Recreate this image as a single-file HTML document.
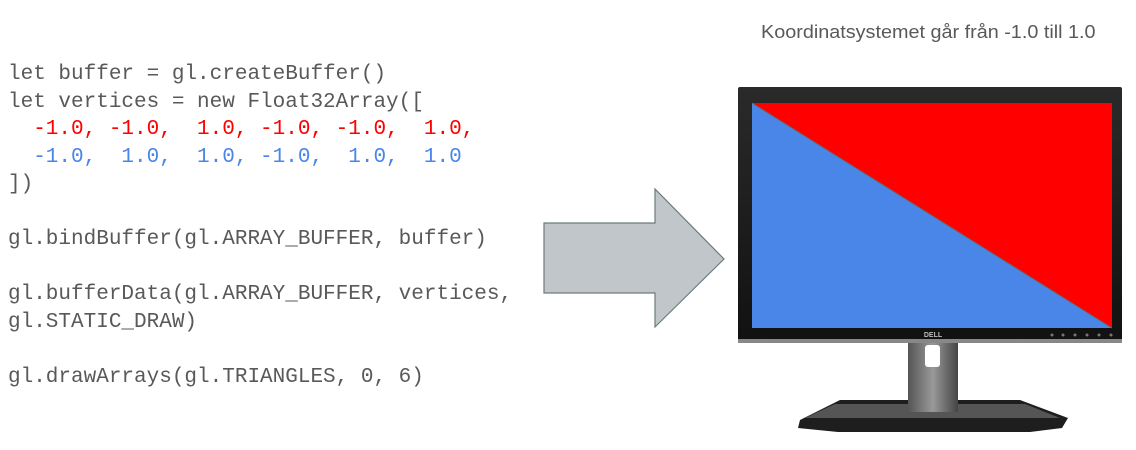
<!DOCTYPE html>
<html><head><meta charset="utf-8"><style>
body{margin:0;width:1136px;height:450px;background:#fff;position:relative;overflow:hidden}
pre{position:absolute;left:8px;top:61px;margin:0;font-family:"Liberation Mono",monospace;font-size:21px;line-height:27.5px;color:#595959}
.r{color:#ff0000}.b{color:#4a86e8}
.t{position:absolute;left:761px;top:22px;font-family:"Liberation Sans",sans-serif;font-size:18px;color:#595959;transform:scaleX(1.1);transform-origin:0 0;white-space:nowrap}
</style></head><body>
<div class="t">Koordinatsystemet går från -1.0 till 1.0</div>
<pre>let buffer = gl.createBuffer()
let vertices = new Float32Array([
<span class="r">  -1.0, -1.0,  1.0, -1.0, -1.0,  1.0,</span>
<span class="b">  -1.0,  1.0,  1.0, -1.0,  1.0,  1.0</span>
])

gl.bindBuffer(gl.ARRAY_BUFFER, buffer)

gl.bufferData(gl.ARRAY_BUFFER, vertices,
gl.STATIC_DRAW)

gl.drawArrays(gl.TRIANGLES, 0, 6)</pre>
<svg width="1136" height="450" style="position:absolute;left:0;top:0">
<defs>
<linearGradient id="n" x1="0" x2="1"><stop offset="0" stop-color="#555"/><stop offset=".5" stop-color="#999"/><stop offset="1" stop-color="#444"/></linearGradient>
<linearGradient id="bz" x1="0" y1="0" x2="0" y2="1"><stop offset="0" stop-color="#2a2a2a"/><stop offset="1" stop-color="#111"/></linearGradient>
</defs>
<polygon points="544,223 655,223 655,189 724,259 655,327 655,293 544,293" fill="#c0c6c9" stroke="#6f7a7d" stroke-width="1.2"/>
<polygon points="840,400 1020,400 1068,418 1062,428 1030,432 838,432 798,428 800,420" fill="#1e1e1e"/>
<polygon points="835,404 1025,404 1060,418 805,418" fill="#555"/>
<rect x="908" y="340" width="50" height="72" fill="url(#n)"/>
<rect x="925" y="345" width="15" height="22" rx="3" fill="#fff"/>
<rect x="738" y="87" width="384" height="256" rx="2" fill="url(#bz)"/>
<rect x="738" y="339" width="384" height="4" fill="#888"/>
<rect x="752" y="103" width="360" height="225" fill="#4a86e8"/>
<polygon points="752,103 1112,103 1112,328" fill="#ff0000"/>
<line x1="752" y1="103" x2="1112" y2="328" stroke="#666" stroke-width="1"/>
<text x="933" y="337" font-family="Liberation Sans,sans-serif" font-size="7" font-weight="bold" fill="#bbb" text-anchor="middle">DELL</text>
<g fill="#777"><circle cx="1052" cy="335" r="1.5"/><circle cx="1063" cy="335" r="1.5"/><circle cx="1075" cy="335" r="1.5"/><circle cx="1087" cy="335" r="1.5"/><circle cx="1099" cy="335" r="1.5"/><circle cx="1111" cy="335" r="1.5"/></g>
</svg>
</body></html>
